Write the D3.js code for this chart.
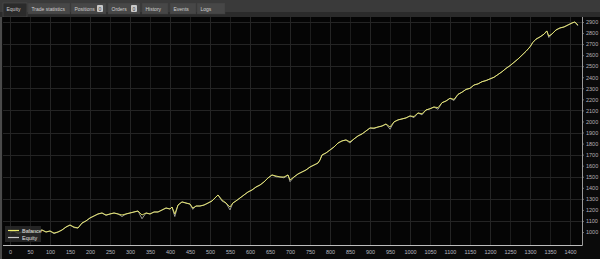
<!DOCTYPE html>
<html><head><meta charset="utf-8">
<script src="https://cdn.jsdelivr.net/npm/d3@7"></script>
<style>
html,body{margin:0;padding:0;background:#0a0a0a;overflow:hidden}
svg{display:block;font-family:"Liberation Sans",Arial,sans-serif}
</style></head><body>
<svg id="c" width="600" height="259"></svg>
<script>
const tabs = ["Equity","Trade statistics","Positions","Orders","History","Events","Logs"];
const tabBadges = [null,null,"0","0",null,null,null];
const xTicks = d3.range(0, 1401, 50);
const yTicks = d3.range(1000, 2901, 100);
const yGrid = d3.range(1100, 2901, 200);
const trades = [0,10,20,30,40,50,60,70,80,90,100,110,120,130,140,150,160,170,180,190,200,210,220,230,240,250,260,270,280,290,300,310,320,330,340,350,360,370,380,390,400,405,412,420,430,440,450,457,465,475,485,495,505,515,520,530,540,550,557,565,575,585,595,605,615,625,635,645,655,665,675,685,695,700,710,720,730,740,750,760,770,775,780,790,800,810,820,830,840,850,860,870,880,890,900,910,920,930,940,950,960,970,980,990,1000,1010,1020,1030,1040,1050,1060,1070,1080,1090,1100,1110,1120,1130,1140,1150,1160,1170,1180,1190,1200,1210,1220,1230,1240,1250,1260,1270,1280,1290,1300,1307,1315,1325,1335,1342,1347,1355,1365,1375,1385,1395,1405,1412,1420];
const balance = [1000,1009,991,1000,1009,1018,1000,1009,1018,1000,1009,991,1000,1018,1045,1063,1045,1036,1081,1100,1127,1145,1163,1172,1154,1163,1172,1163,1154,1163,1172,1181,1190,1154,1172,1163,1181,1181,1199,1217,1208,1226,1163,1244,1272,1262,1253,1217,1235,1235,1244,1262,1281,1317,1335,1290,1262,1226,1262,1281,1308,1335,1362,1380,1407,1425,1453,1489,1516,1507,1498,1498,1516,1471,1498,1525,1543,1561,1588,1606,1624,1652,1697,1715,1742,1769,1805,1824,1833,1815,1842,1869,1887,1914,1941,1941,1950,1959,1977,1950,1996,2014,2023,2032,2050,2045,2077,2070,2104,2115,2131,2125,2170,2185,2210,2200,2245,2265,2290,2300,2330,2340,2360,2370,2385,2400,2425,2450,2480,2505,2535,2565,2600,2635,2675,2715,2745,2765,2790,2819,2774,2792,2828,2846,2855,2873,2891,2900,2873];
const equity = [1000,1009,985,1000,1009,1018,995,1009,1018,1000,1009,985,1000,1018,1045,1063,1040,1036,1081,1100,1127,1145,1163,1172,1150,1163,1172,1163,1140,1163,1172,1181,1190,1120,1172,1163,1181,1181,1199,1217,1208,1226,1140,1244,1272,1262,1253,1205,1235,1235,1244,1262,1281,1317,1335,1280,1262,1200,1262,1281,1308,1335,1362,1380,1407,1425,1453,1489,1516,1500,1498,1490,1516,1455,1498,1525,1543,1561,1588,1606,1624,1652,1697,1715,1742,1769,1805,1824,1833,1805,1842,1869,1887,1914,1941,1935,1950,1959,1977,1930,1996,2014,2023,2032,2050,2035,2077,2060,2104,2115,2131,2110,2170,2185,2210,2190,2245,2265,2290,2300,2330,2340,2360,2370,2385,2400,2425,2450,2480,2505,2535,2565,2600,2635,2675,2715,2745,2765,2790,2819,2760,2792,2828,2846,2855,2873,2891,2900,2865];

(function(){
const svg = d3.select("#c");
const W = 600, H = 259;
const pL = 3, pR = 582, pT = 17, pB = 245;

svg.append("rect").attr("x",0).attr("y",0).attr("width",W).attr("height",H).attr("fill","#0a0a0a");
svg.append("rect").attr("x",0).attr("y",0).attr("width",W).attr("height",pT).attr("fill","#2b2b2b");
svg.append("rect").attr("x",0).attr("y",0).attr("width",W).attr("height",12).attr("fill","#3a3a3a");
svg.append("rect").attr("x",0).attr("y",pT).attr("width",2).attr("height",H-pT).attr("fill","#4a4a4a");

const tabX = [3,28,71,108,142,170,197];
const tabW = [24,42,35,32,26,26,28];
tabs.forEach((t,i)=>{
  const g = svg.append("g");
  const active = i===0;
  g.append("rect").attr("x",tabX[i]).attr("y",3).attr("width",tabW[i]).attr("height",active?14:11)
    .attr("fill",active?"#2b2b2b":"#474747").attr("stroke",active?"#555":"#3f3f3f").attr("stroke-width",0.5);
  g.append("text").attr("x",tabX[i]+3.5).attr("y",11.3).attr("font-size",5).attr("fill","#d0d0d0").text(t);
  if (tabBadges[i]!==null){
    const bx = tabX[i]+tabW[i]-9;
    g.append("rect").attr("x",bx).attr("y",5).attr("width",6).attr("height",7).attr("rx",1).attr("fill","#c8c8c8");
    g.append("text").attr("x",bx+3).attr("y",10.6).attr("text-anchor","middle").attr("font-size",5).attr("fill","#333").text(tabBadges[i]);
  }
});

svg.append("rect").attr("x",pL).attr("y",pT).attr("width",pR-pL).attr("height",pB-pT).attr("fill","#050505");

const x = d3.scaleLinear().domain([0,1400]).range([10,570]);
const y = d3.scaleLinear().domain([1000,2900]).range([232,22]);

svg.append("g").selectAll("line").data(xTicks).join("line")
  .attr("x1",d=>x(d)+0.5).attr("x2",d=>x(d)+0.5).attr("y1",pT).attr("y2",pB)
  .attr("stroke",(d)=> d%100===0 ? "#242424" : "#1c1c1c").attr("stroke-width",1);
svg.append("g").selectAll("line").data(yGrid).join("line")
  .attr("x1",pL).attr("x2",pR).attr("y1",d=>Math.round(y(d))+0.5).attr("y2",d=>Math.round(y(d))+0.5)
  .attr("stroke","#242424").attr("stroke-width",1);

const xAxis = d3.axisBottom(x).tickValues(xTicks).tickSize(0).tickPadding(5).tickFormat(d3.format("d"));
const gx = svg.append("g").attr("transform",`translate(0,${pB})`).call(xAxis);
gx.select(".domain").remove();
gx.selectAll("text").attr("font-size",5.5).attr("fill","#b8b8c0").attr("font-family","Liberation Sans, Arial, sans-serif");

const yAxis = d3.axisRight(y).tickValues(yTicks).tickSize(2).tickPadding(2).tickFormat(d3.format("d"));
const gy = svg.append("g").attr("transform",`translate(${pR},0)`).call(yAxis);
gy.select(".domain").remove();
gy.selectAll("line").attr("stroke","#666");
gy.selectAll("text").attr("font-size",5.5).attr("fill","#b8b0b8").attr("font-family","Liberation Sans, Arial, sans-serif");

svg.append("line").attr("x1",pL).attr("x2",pR+0.5).attr("y1",pB+0.5).attr("y2",pB+0.5).attr("stroke","#bdbdbd").attr("stroke-width",1);
svg.append("line").attr("x1",pR+0.5).attr("x2",pR+0.5).attr("y1",pT).attr("y2",pB+0.5).attr("stroke","#9a9a9a").attr("stroke-width",1);

const line = d3.line().x((d,i)=>x(trades[i])).y(d=>y(d));
svg.append("path").datum(equity).attr("d",line).attr("fill","none").attr("stroke","#a8a8a0").attr("stroke-width",0.9);
svg.append("path").datum(balance).attr("d",line).attr("fill","none").attr("stroke","#ecec6c").attr("stroke-width",0.9);

const lg = svg.append("g");
lg.append("rect").attr("x",5).attr("y",226).attr("width",36).attr("height",16).attr("fill","#2a2a2a").attr("opacity",0.85);
lg.append("line").attr("x1",8).attr("x2",19).attr("y1",230.5).attr("y2",230.5).attr("stroke","#ecec6c").attr("stroke-width",1.2);
lg.append("line").attr("x1",8).attr("x2",19).attr("y1",237.5).attr("y2",237.5).attr("stroke","#c8c8c8").attr("stroke-width",1.2);
lg.append("text").attr("x",22).attr("y",232.5).attr("font-size",5.5).attr("fill","#e0e0e0").text("Balance");
lg.append("text").attr("x",22).attr("y",239.5).attr("font-size",5.5).attr("fill","#e0e0e0").text("Equity");
})();
</script>
</body></html>
